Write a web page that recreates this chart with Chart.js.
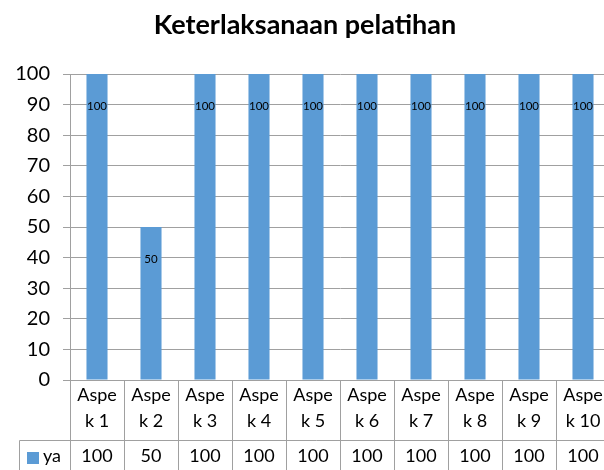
<!DOCTYPE html>
<html>
<head>
<meta charset="utf-8">
<script src="https://cdn.jsdelivr.net/npm/chart.js@4.4.0/dist/chart.umd.min.js"></script>
<style>
    html, body { margin: 0; padding: 0; background: #fff; overflow: hidden; }
    #wrap { width: 604px; height: 470px; overflow: hidden; position: relative; }
    #grafico { position: absolute; left: 0; top: 0; }
</style>
</head>
<body>
<div id="wrap"><canvas id="grafico" width="614" height="470"></canvas></div>
<script>
// datos del grafico
const aspekLabels = [
    ['Aspe', 'k 1'], ['Aspe', 'k 2'], ['Aspe', 'k 3'], ['Aspe', 'k 4'], ['Aspe', 'k 5'],
    ['Aspe', 'k 6'], ['Aspe', 'k 7'], ['Aspe', 'k 8'], ['Aspe', 'k 9'], ['Aspe', 'k 10']
];
const nilaiYa = [100, 50, 100, 100, 100, 100, 100, 100, 100, 100];
const serieNombre = 'ya';
const yMin = 0, yMax = 100, yStep = 10;
const chartTitle = 'Keterlaksanaan pelatihan';

const barColor = '#5B9BD5';
const lineColor = '#a0a0a0';
const fontFam = 'Lato, "Open Sans", sans-serif';

// tabla de datos debajo del eje (estilo Excel) + etiquetas dentro de las barras
const tablaDatos = {
    id: 'tablaDatos',
    afterDraw(chart) {
        const ctx = chart.ctx;
        const xs = chart.scales.x;
        const area = chart.chartArea;
        const bottom = chart.height;
        const rowY = 440;
        const px = v => Math.round(v) + 0.5;

        ctx.save();
        ctx.strokeStyle = lineColor;
        ctx.lineWidth = 1;
        ctx.beginPath();
        for (let i = 0; i <= aspekLabels.length; i++) {
            const bx = px(xs.getPixelForValue(i - 0.5));
            ctx.moveTo(bx, area.bottom);
            ctx.lineTo(bx, bottom);
        }
        ctx.moveTo(19.5, px(rowY));
        ctx.lineTo(chart.width, px(rowY));
        ctx.moveTo(19.5, px(rowY));
        ctx.lineTo(19.5, bottom);
        ctx.stroke();

        // celda de leyenda
        ctx.fillStyle = barColor;
        ctx.fillRect(27, 452, 12, 12);
        ctx.fillStyle = '#000';
        ctx.font = '18px ' + fontFam;
        ctx.textBaseline = 'middle';
        ctx.textAlign = 'left';
        ctx.fillText(serieNombre, 43, 456);

        // fila de valores
        ctx.textAlign = 'center';
        nilaiYa.forEach((v, i) => {
            ctx.fillText(String(v), xs.getPixelForValue(i), 456);
        });

        // etiquetas de las barras
        const meta = chart.getDatasetMeta(0);
        ctx.font = '11.5px ' + fontFam;
        meta.data.forEach((bar, i) => {
            ctx.fillText(String(nilaiYa[i]), bar.x, bar.y + 32);
        });
        ctx.restore();
    }
};

const ctx = document.getElementById('grafico').getContext('2d');
new Chart(ctx, {
    type: 'bar',
    data: {
        labels: aspekLabels,
        datasets: [{
            label: serieNombre,
            data: nilaiYa,
            backgroundColor: barColor,
            borderWidth: 0,
            categoryPercentage: 1,
            barPercentage: 0.39
        }]
    },
    options: {
        responsive: false,
        animation: false,
        layout: { padding: { top: 0, right: 4, bottom: 0, left: 0 } },
        scales: {
            x: {
                afterFit: scale => { scale.height = 90; },
                grid: { display: false, drawTicks: false },
                border: { display: true, color: lineColor },
                ticks: {
                    color: '#000',
                    padding: 3,
                    maxRotation: 0,
                    autoSkip: false,
                    font: { family: fontFam, size: 18, lineHeight: 1.4 }
                }
            },
            y: {
                min: yMin,
                max: yMax,
                afterFit: scale => { scale.width = 70; },
                grid: { color: lineColor, tickLength: 7 },
                border: { display: true, color: lineColor },
                ticks: {
                    stepSize: yStep,
                    color: '#000',
                    padding: 13,
                    font: { family: fontFam, size: 20 }
                }
            }
        },
        plugins: {
            legend: { display: false },
            tooltip: { enabled: false },
            title: {
                display: true,
                text: chartTitle,
                color: '#000',
                font: { family: fontFam, size: 27, weight: 'bold', lineHeight: 1.2 },
                padding: { top: 9, bottom: 32.6 }
            }
        }
    },
    plugins: [tablaDatos]
});
</script>
</body>
</html>
